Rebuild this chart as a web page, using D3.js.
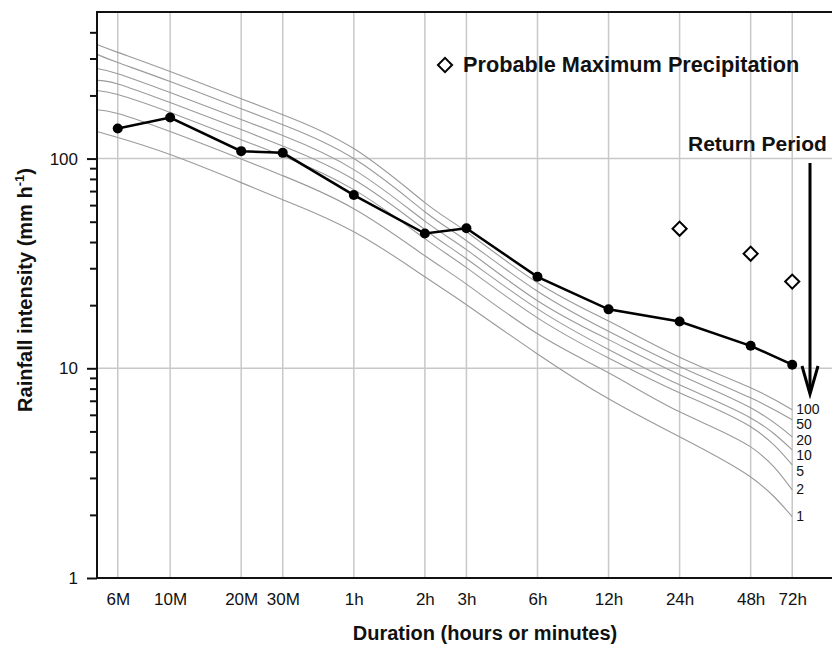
<!DOCTYPE html>
<html>
<head>
<meta charset="utf-8">
<script src="https://cdn.jsdelivr.net/npm/d3@7"></script>
<style>
  body { margin: 0; background: #fff; }
  svg { display: block; font-family: "Liberation Sans", Arial, sans-serif; }
</style>
</head>
<body>
<div id="chart"></div>
<script>
// Durations in minutes and their labels
const durations = [6, 10, 20, 30, 60, 120, 180, 360, 720, 1440, 2880, 4320];
const durationLabels = ["6M", "10M", "20M", "30M", "1h", "2h", "3h", "6h", "12h", "24h", "48h", "72h"];

// Observed maximum intensities (mm/h)
const observed = [139, 157, 108.5, 106.5, 67, 43.9, 46.5, 27.3, 19.1, 16.7, 12.8, 10.4];

// Probable Maximum Precipitation
const pmpDurations = [1440, 2880, 4320];
const pmpValues = [46.3, 35.2, 25.9];

// IDF curves by return period (years)
const idfDurations = [4.9, 6, 10, 20, 30, 60, 120, 180, 360, 720, 1440, 2880, 4320];
const returnPeriods = [100, 50, 20, 10, 5, 2, 1];
const idf100 = [350, 321, 260, 193, 162, 111.6, 61.7, 44.8, 25.6, 16.8, 11.3, 8.07, 6.34];
const idf50  = [314, 287, 233, 173, 145, 100, 55.8, 40.6, 23.3, 15.0, 10.2, 7.23, 5.68];
const idf20  = [269, 254, 206.5, 153.5, 128.8, 88.6, 50.3, 36.8, 21.0, 13.7, 9.31, 6.48, 4.71];
const idf10  = [236, 227, 185, 137.5, 114.7, 79.4, 45.8, 33.3, 19.2, 12.3, 8.34, 5.80, 4.08];
const idf5   = [211, 202, 166, 123, 103, 71.1, 41.5, 30.2, 17.4, 11.2, 7.64, 5.26, 3.46];
const idf2   = [171, 164, 134.5, 99.5, 82.9, 57.7, 34.4, 25.2, 14.6, 9.52, 6.20, 4.22, 2.63];
const idf1   = [134.5, 126, 104.5, 76.8, 63.7, 44.8, 27.3, 20.1, 11.7, 7.15, 4.71, 3.03, 1.96];

// Y axis ticks
const yTickValues = [1, 10, 100];
const yTickLabels = ["1", "10", "100"];

(function () {
    const width = 832, height = 645;
    const plot = { left: 97, right: 873, top: 12, bottom: 578 };
    const idfSeries = [idf100, idf50, idf20, idf10, idf5, idf2, idf1];

    const svg = d3.select("#chart").append("svg")
        .attr("width", width)
        .attr("height", height);

    const x = d3.scaleLog().domain([4.9, 9500]).range([plot.left, plot.right]);
    const y = d3.scaleLog().domain([1, 500]).range([plot.bottom, plot.top]);

    // --- grid ---
    const grid = svg.append("g").attr("stroke", "#c8c8c8").attr("stroke-width", 1.5);
    grid.selectAll("line.v").data(durations).join("line")
        .attr("class", "v")
        .attr("x1", d => x(d)).attr("x2", d => x(d))
        .attr("y1", plot.top).attr("y2", plot.bottom);
    grid.selectAll("line.h").data([10, 100]).join("line")
        .attr("class", "h")
        .attr("x1", plot.left).attr("x2", plot.right)
        .attr("y1", d => y(d)).attr("y2", d => y(d));

    // --- IDF curves ---
    const line = d3.line()
        .x(d => x(d[0]))
        .y(d => y(d[1]))
        .curve(d3.curveNatural);

    svg.append("g").selectAll("path").data(idfSeries).join("path")
        .attr("d", s => line(s.map((v, i) => [idfDurations[i], v])))
        .attr("fill", "none")
        .attr("stroke", "#9a9a9a")
        .attr("stroke-width", 1.1);

    // return period labels at curve ends
    let lastY = -Infinity;
    const rpLabels = idfSeries.map((s, i) => {
        const ly = Math.max(y(s[s.length - 1]) + 4, lastY + 15.5);
        lastY = ly;
        return { text: returnPeriods[i], y: ly };
    });
    svg.append("g").selectAll("text").data(rpLabels).join("text")
        .attr("x", x(4320) + 4)
        .attr("y", d => d.y)
        .attr("font-size", 14)
        .attr("fill", "#111")
        .text(d => d.text);

    // --- observed line ---
    const obs = durations.map((d, i) => [d, observed[i]]);
    svg.append("path")
        .attr("d", d3.line().x(d => x(d[0])).y(d => y(d[1]))(obs))
        .attr("fill", "none")
        .attr("stroke", "#000")
        .attr("stroke-width", 2.5);
    svg.append("g").selectAll("circle").data(obs).join("circle")
        .attr("cx", d => x(d[0]))
        .attr("cy", d => y(d[1]))
        .attr("r", 5)
        .attr("fill", "#000");

    // --- PMP diamonds ---
    const diamond = d3.symbol(d3.symbolSquare).size(100);
    svg.append("g").selectAll("path").data(pmpDurations).join("path")
        .attr("d", diamond)
        .attr("transform", (d, i) => `translate(${x(d)},${y(pmpValues[i])}) rotate(45)`)
        .attr("fill", "#fff")
        .attr("stroke", "#000")
        .attr("stroke-width", 2);

    // --- axes ---
    const yAxis = d3.axisLeft(y)
        .tickValues(yTickValues)
        .tickFormat((d, i) => yTickLabels[i])
        .tickSize(10)
        .tickPadding(9);
    const minor = [];
    [1, 10, 100].forEach(b => d3.range(2, 10).forEach(k => { if (b * k < 500) minor.push(b * k); }));
    const yMinor = d3.axisLeft(y).tickValues(minor).tickSize(7).tickFormat("");

    const gy = svg.append("g").attr("transform", `translate(${plot.left},0)`).call(yAxis);
    const gm = svg.append("g").attr("transform", `translate(${plot.left},0)`).call(yMinor);
    [gy, gm].forEach(g => {
        g.select(".domain").remove();
        g.selectAll(".tick line").attr("stroke", "#111").attr("stroke-width", 2);
    });
    gy.selectAll(".tick text").attr("font-size", 17).attr("fill", "#111")
        .attr("font-family", '"Liberation Sans", Arial, sans-serif');

    const xAxis = d3.axisBottom(x)
        .tickValues(durations)
        .tickFormat((d, i) => durationLabels[i])
        .tickSize(0)
        .tickPadding(15);
    const gx = svg.append("g").attr("transform", `translate(0,${plot.bottom})`).call(xAxis);
    gx.select(".domain").remove();
    gx.selectAll(".tick text").attr("font-size", 17).attr("fill", "#111")
        .attr("font-family", '"Liberation Sans", Arial, sans-serif');

    // frame lines
    const frame = svg.append("g").attr("stroke", "#111").attr("stroke-width", 2);
    frame.append("line").attr("x1", plot.left).attr("x2", plot.right).attr("y1", plot.top).attr("y2", plot.top);
    frame.append("line").attr("x1", plot.left).attr("x2", plot.right).attr("y1", plot.bottom).attr("y2", plot.bottom);
    frame.append("line").attr("x1", plot.left).attr("x2", plot.left).attr("y1", plot.top - 1).attr("y2", plot.bottom + 1);

    // --- axis titles ---
    svg.append("text")
        .attr("x", 485).attr("y", 640)
        .attr("text-anchor", "middle")
        .attr("font-size", 20).attr("font-weight", "bold").attr("fill", "#111")
        .text("Duration (hours or minutes)");

    const yt = svg.append("text")
        .attr("transform", "translate(32,290) rotate(-90)")
        .attr("text-anchor", "middle")
        .attr("font-size", 20).attr("font-weight", "bold").attr("fill", "#111");
    yt.append("tspan").text("Rainfall intensity (mm h");
    yt.append("tspan").attr("dy", -8).attr("font-size", 13).text("-1");
    yt.append("tspan").attr("dy", 8).text(")");

    // --- legend ---
    svg.append("path")
        .attr("d", diamond)
        .attr("transform", "translate(445,65) rotate(45)")
        .attr("fill", "#fff").attr("stroke", "#000").attr("stroke-width", 2);
    svg.append("text")
        .attr("x", 463).attr("y", 72)
        .attr("font-size", 21.7).attr("font-weight", "bold").attr("fill", "#111")
        .text("Probable Maximum Precipitation");

    svg.append("text")
        .attr("x", 688).attr("y", 151)
        .attr("font-size", 21).attr("font-weight", "bold").attr("fill", "#111")
        .text("Return Period");

    // arrow
    svg.append("line")
        .attr("x1", 810).attr("x2", 810).attr("y1", 163).attr("y2", 392)
        .attr("stroke", "#000").attr("stroke-width", 3);
    svg.append("path")
        .attr("d", "M802,366 L810,394 L818,366")
        .attr("fill", "none").attr("stroke", "#000").attr("stroke-width", 3);
})();
</script>
</body>
</html>
